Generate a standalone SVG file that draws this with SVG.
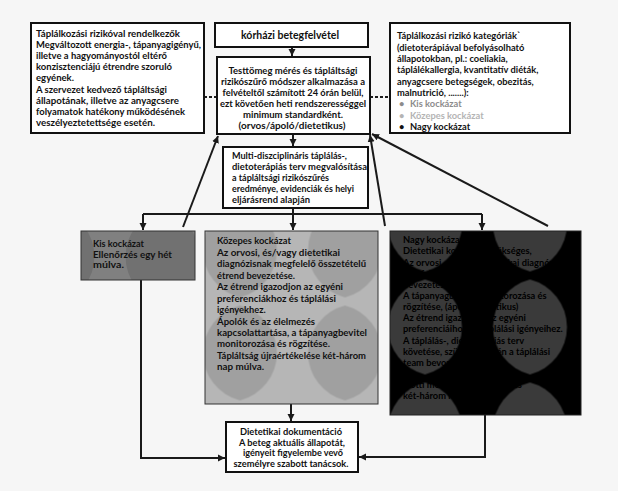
<svg xmlns="http://www.w3.org/2000/svg" width="618" height="491" viewBox="0 0 618 491">
<style>
text{font-family:Lato,"Liberation Sans",sans-serif;font-weight:bold;font-size:9.3px;fill:#111}
.box{fill:#fff;stroke:#111;stroke-width:2}
.c{text-anchor:middle}
.ln{stroke:#1a1a1a;stroke-width:2;fill:none}
.dash{stroke:#1a1a1a;stroke-width:2;fill:none;stroke-dasharray:3 2}
.g1{fill:#8c8c8c}
.g2{fill:#b4b4b4}
.nt{fill:#000}
</style>
<defs>
<marker id="ah" markerWidth="8" markerHeight="8" refX="7" refY="4" orient="auto" markerUnits="userSpaceOnUse">
<path d="M0,0.5 L7,4 L0,7.5 Z" fill="#1a1a1a"/>
</marker>
<path id="lens" d="M52.5,4 A49,49 0 0 1 52.5,99 A49,49 0 0 1 52.5,4 Z"/>
<pattern id="pN" patternUnits="userSpaceOnUse" x="372.5" y="172.5" width="105" height="103">
<rect width="105" height="103" fill="#000"/>
<use href="#lens" fill="#3a3a3a"/>
</pattern>
<pattern id="pM" patternUnits="userSpaceOnUse" x="187.5" y="198.5" width="105" height="103">
<rect width="105" height="103" fill="#b6b6b6"/>
<use href="#lens" fill="#a0a0a0"/>
</pattern>
<pattern id="pK" patternUnits="userSpaceOnUse" x="110" y="205" width="105" height="103">
<rect width="105" height="103" fill="#808080"/>
<use href="#lens" fill="#717171"/>
</pattern>
</defs>
<rect width="618" height="491" fill="#f6f6f6"/>

<g id="connectors">
<line class="ln" x1="292" y1="47" x2="292" y2="56" marker-end="url(#ah)"/>
<line class="ln" x1="293" y1="134" x2="293" y2="146" marker-end="url(#ah)"/>
<line class="dash" x1="204" y1="97" x2="217" y2="97"/>
<line class="dash" x1="370" y1="97" x2="390" y2="97"/>
<line class="ln" x1="293" y1="208" x2="293" y2="214"/>
<line class="ln" x1="143" y1="214" x2="482" y2="214"/>
<line class="ln" x1="143" y1="214" x2="143" y2="230" marker-end="url(#ah)"/>
<line class="ln" x1="293" y1="214" x2="293" y2="230" marker-end="url(#ah)"/>
<line class="ln" x1="482" y1="214" x2="482" y2="230" marker-end="url(#ah)"/>
<line class="ln" x1="183" y1="227" x2="218" y2="136" marker-end="url(#ah)"/>
<line class="ln" x1="385" y1="226" x2="370" y2="135" marker-end="url(#ah)"/>
<line class="ln" x1="548" y1="226" x2="372" y2="134" marker-end="url(#ah)"/>
<polyline class="ln" points="141,280 141,458 225,458" marker-end="url(#ah)"/>
<polyline class="ln" points="485,415 485,457 359,457" marker-end="url(#ah)"/>
<line class="ln" x1="291" y1="404" x2="291" y2="421" marker-end="url(#ah)"/>
</g>

<g id="node-left">
<rect class="box" x="31" y="23" width="173" height="110"/>
<text x="36" y="36.6" textLength="144" lengthAdjust="spacingAndGlyphs">Táplálkozási rizikóval rendelkezők</text>
<text x="36" y="47.8" textLength="165" lengthAdjust="spacingAndGlyphs">Megváltozott energia-, tápanyagigényű,</text>
<text x="36" y="59" textLength="131" lengthAdjust="spacingAndGlyphs">illetve a hagyományostól eltérő</text>
<text x="36" y="70.1" textLength="136" lengthAdjust="spacingAndGlyphs">konzisztenciájú étrendre szoruló</text>
<text x="36" y="81.3" textLength="38" lengthAdjust="spacingAndGlyphs">egyének.</text>
<text x="36" y="92.5" textLength="131" lengthAdjust="spacingAndGlyphs">A szervezet kedvező tápláltsági</text>
<text x="36" y="103.7" textLength="143" lengthAdjust="spacingAndGlyphs">állapotának, illetve az anyagcsere</text>
<text x="36" y="114.8" textLength="149" lengthAdjust="spacingAndGlyphs">folyamatok hatékony működésének</text>
<text x="36" y="126" textLength="119" lengthAdjust="spacingAndGlyphs">veszélyeztetettsége esetén.</text>
</g>

<g id="node-admission">
<rect class="box" x="215" y="23" width="153" height="24"/>
<text class="c" x="290" y="39" style="font-size:10.5px" textLength="98" lengthAdjust="spacingAndGlyphs">kórházi betegfelvétel</text>
</g>

<g id="node-screening">
<rect class="box" x="217" y="57" width="153" height="77"/>
<text class="c" x="293" y="74.3" textLength="129" lengthAdjust="spacingAndGlyphs">Testtömeg mérés és tápláltsági</text>
<text class="c" x="293" y="85.3" textLength="144" lengthAdjust="spacingAndGlyphs">rizikószűrő módszer alkalmazása a</text>
<text class="c" x="293" y="96.3" textLength="141" lengthAdjust="spacingAndGlyphs">felvételtől számított 24 órán belül,</text>
<text class="c" x="293" y="107.3" textLength="146" lengthAdjust="spacingAndGlyphs">ezt követően heti rendszerességgel</text>
<text class="c" x="293" y="118.3" textLength="100" lengthAdjust="spacingAndGlyphs">minimum standardként.</text>
<text class="c" x="292" y="129.3" textLength="107" lengthAdjust="spacingAndGlyphs">(orvos/ápoló/dietetikus)</text>
</g>

<g id="node-categories">
<rect class="box" x="390" y="23" width="180" height="110"/>
<text x="397" y="39.3">Táplálkozási rizikó kategóriák`</text>
<text x="397" y="50.6">(dietoterápiával befolyásolható</text>
<text x="397" y="62">állapotokban, pl.: coeliakia,</text>
<text x="397" y="73.3">táplálékallergia, kvantitatív diéták,</text>
<text x="397" y="84.6">anyagcsere betegségek, obezitás,</text>
<text x="397" y="96">malnutrició, .......):</text>
<text x="399" y="107.3" class="g1">•</text>
<text x="410" y="107.3" class="g1">Kis kockázat</text>
<text x="399" y="118.6" class="g2">•</text>
<text x="410" y="118.6" class="g2">Közepes kockázat</text>
<text x="399" y="130">•</text>
<text x="410" y="130">Nagy kockázat</text>
</g>

<g id="node-plan">
<rect class="box" x="223" y="147" width="145" height="61"/>
<text x="232" y="159.3" textLength="115" lengthAdjust="spacingAndGlyphs">Multi-diszciplináris táplálás-,</text>
<text x="232" y="170.3" textLength="135" lengthAdjust="spacingAndGlyphs">dietoterápiás terv megvalósítása</text>
<text x="232" y="181.3" textLength="97" lengthAdjust="spacingAndGlyphs">a tápláltsági rizikószűrés</text>
<text x="232" y="192.3" textLength="122" lengthAdjust="spacingAndGlyphs">eredménye, evidenciák és helyi</text>
<text x="232" y="203.3" textLength="78" lengthAdjust="spacingAndGlyphs">eljárásrend alapján</text>
</g>

<g id="node-low">
<rect x="81" y="231" width="114" height="49" fill="url(#pK)" stroke="#333" stroke-width="1"/>
<text x="93" y="247.3" textLength="51" lengthAdjust="spacingAndGlyphs">Kis kockázat</text>
<text x="93" y="257.8" textLength="79" lengthAdjust="spacingAndGlyphs">Ellenőrzés egy hét</text>
<text x="93" y="268.3" textLength="31" lengthAdjust="spacingAndGlyphs">múlva.</text>
</g>

<g id="node-medium">
<rect x="205" y="231" width="173" height="173" fill="url(#pM)" stroke="#333" stroke-width="1"/>
<text x="217" y="244.3" textLength="74" lengthAdjust="spacingAndGlyphs">Közepes kockázat</text>
<text x="217" y="255.8" textLength="123" lengthAdjust="spacingAndGlyphs">Az orvosi, és/vagy dietetikai</text>
<text x="217" y="267.2" textLength="149" lengthAdjust="spacingAndGlyphs">diagnózisnak megfelelő összetételű</text>
<text x="217" y="278.7">étrend bevezetése.</text>
<text x="217" y="290.1" textLength="126" lengthAdjust="spacingAndGlyphs">Az étrend igazodjon az egyéni</text>
<text x="217" y="301.6" textLength="119" lengthAdjust="spacingAndGlyphs">preferenciákhoz és táplálási</text>
<text x="217" y="313">igényekhez.</text>
<text x="217" y="324.5" textLength="98" lengthAdjust="spacingAndGlyphs">Ápolók és az élelmezés</text>
<text x="217" y="336" textLength="150" lengthAdjust="spacingAndGlyphs">kapcsolattartása, a tápanyagbevitel</text>
<text x="217" y="347.4" textLength="113" lengthAdjust="spacingAndGlyphs">monitorozása és rögzítése.</text>
<text x="217" y="358.9" textLength="149" lengthAdjust="spacingAndGlyphs">Tápláltság újraértékelése két-három</text>
<text x="217" y="370.3" textLength="47" lengthAdjust="spacingAndGlyphs">nap múlva.</text>
</g>

<g id="node-high">
<rect x="390" y="231" width="191" height="184" fill="url(#pN)" stroke="#222" stroke-width="1"/>
<text class="nt" x="403" y="243.3">Nagy kockázat</text>
<text class="nt" x="403" y="254.4">Dietetikai konzílium szükséges,</text>
<text class="nt" x="403" y="265.6">Az orvosi, és/vagy dietetikai diagnózisnak</text>
<text class="nt" x="403" y="276.7">megfelelő összetételű étrend</text>
<text class="nt" x="403" y="287.9">bevezetése.</text>
<text class="nt" x="403" y="299">A tápanyagbevitel monitorozása és</text>
<text class="nt" x="403" y="310.1">rögzítése, (ápoló, dietetikus)</text>
<text class="nt" x="403" y="321.3">Az étrend igazodjon az egyéni</text>
<text class="nt" x="403" y="332.4">preferenciáihoz és táplálási igényeihez.</text>
<text class="nt" x="403" y="343.6">A táplálás-, dietoterápiás terv</text>
<text class="nt" x="403" y="354.7">követése, szükség esetén a táplálási</text>
<text class="nt" x="403" y="365.8">team bevonása.</text>
<text class="nt" x="403" y="388.1">előtti monitorozás, besorolás</text>
<text class="nt" x="403" y="399.3">két-három nap múlva.</text>
</g>

<g id="node-documentation">
<rect class="box" x="226" y="422" width="132" height="50"/>
<text class="c" x="291" y="435.3" textLength="102" lengthAdjust="spacingAndGlyphs">Dietetikai dokumentáció</text>
<text class="c" x="292" y="445.8" textLength="106" lengthAdjust="spacingAndGlyphs">A beteg aktuális állapotát,</text>
<text class="c" x="293" y="456.3" textLength="100" lengthAdjust="spacingAndGlyphs">igényeit figyelembe vevő</text>
<text class="c" x="291" y="466.8" textLength="115" lengthAdjust="spacingAndGlyphs">személyre szabott tanácsok.</text>
</g>
</svg>
